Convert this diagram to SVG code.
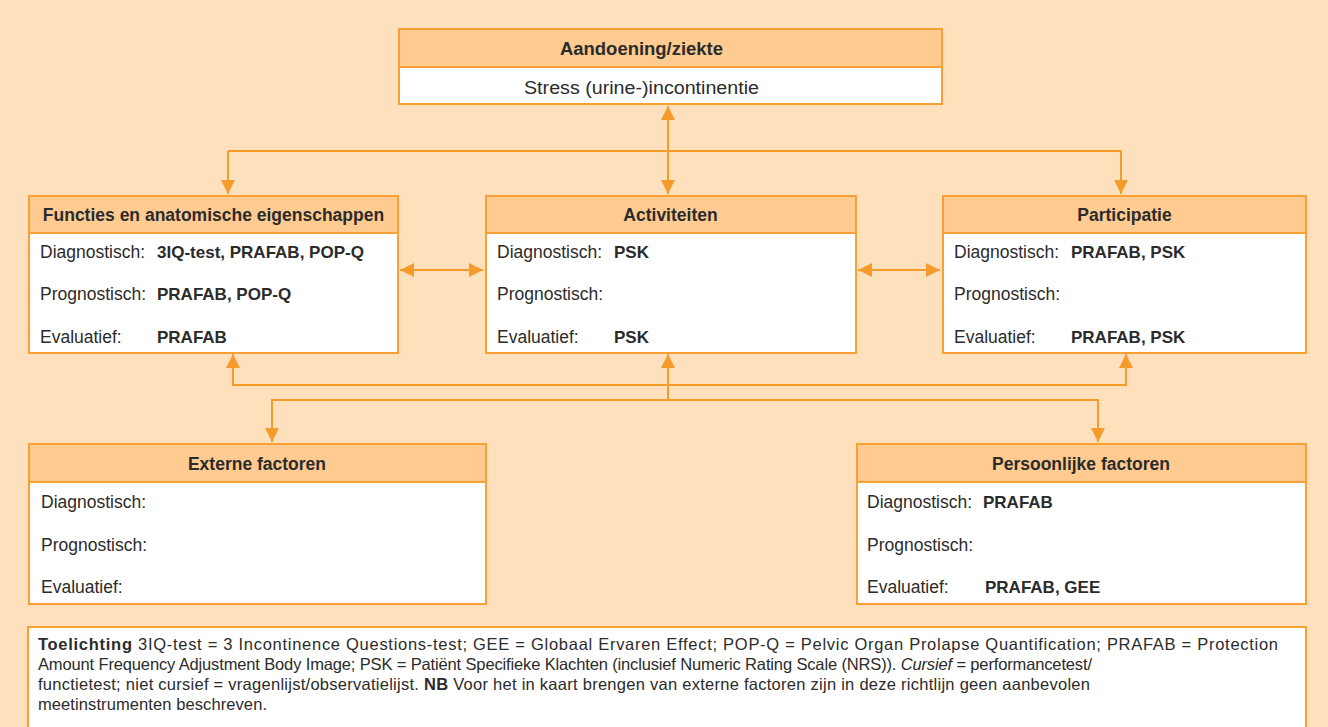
<svg xmlns="http://www.w3.org/2000/svg" width="1328" height="727" viewBox="0 0 1328 727">
<defs>
<style>
.box{fill:#fff;stroke:#F7A034;stroke-width:2}
.hdr{fill:#FFCB91;stroke:#F7A034;stroke-width:2}
.t{font-family:"Liberation Sans",Arial,sans-serif;font-size:17.5px;fill:#2b2b2b}
.v{font-family:"Liberation Sans",Arial,sans-serif;font-size:17px;font-weight:bold;fill:#2b2b2b}
.h{font-family:"Liberation Sans",Arial,sans-serif;font-size:17.5px;font-weight:bold;fill:#2b2b2b;text-anchor:middle}
.b{font-weight:bold}
.c{fill:none;stroke:#F59B2C;stroke-width:2}
.fn{font-family:"Liberation Sans",Arial,sans-serif;font-size:16.5px;fill:#2b2b2b}
</style>
<marker id="ah" markerUnits="userSpaceOnUse" markerWidth="14" markerHeight="16" viewBox="0 0 14 16" refX="14" refY="8" orient="auto-start-reverse">
<path d="M0,1 L14,8 L0,15 Z" fill="#F59B2C"/>
</marker>
</defs>
<rect x="0" y="0" width="1328" height="727" fill="#FFE0BD"/>

<g id="connectors">
<path class="c" d="M668,106 V194" marker-start="url(#ah)" marker-end="url(#ah)"/>
<path class="c" d="M228,151 H1121"/>
<path class="c" d="M228,151 V194" marker-end="url(#ah)"/>
<path class="c" d="M1121,151 V194" marker-end="url(#ah)"/>
<path class="c" d="M400,270 H483" marker-start="url(#ah)" marker-end="url(#ah)"/>
<path class="c" d="M858,270 H940" marker-start="url(#ah)" marker-end="url(#ah)"/>
<path class="c" d="M233,354 V385 H1126 V354" marker-start="url(#ah)" marker-end="url(#ah)"/>
<path class="c" d="M668,400 V354" marker-end="url(#ah)"/>
<path class="c" d="M272,442 V400 H1098 V442" marker-start="url(#ah)" marker-end="url(#ah)"/>
</g>

<g id="aandoening">
<rect class="hdr" x="399" y="29" width="543" height="38"/>
<rect class="box" x="399" y="67" width="543" height="37"/>
<text class="h" x="560" y="55" font-size="19.5" textLength="163" lengthAdjust="spacingAndGlyphs" style="text-anchor:start">Aandoening/ziekte</text>
<text class="t" x="524" y="94" font-size="19" textLength="235" lengthAdjust="spacingAndGlyphs">Stress (urine-)incontinentie</text>
</g>

<g id="functies">
<rect class="hdr" x="29" y="196" width="369" height="37"/>
<rect class="box" x="29" y="233" width="369" height="120"/>
<text class="h" x="213.5" y="221">Functies en anatomische eigenschappen</text>
<text class="t" x="40" y="258">Diagnostisch:</text>
<text class="v" x="157" y="258">3IQ-test, PRAFAB, POP-Q</text>
<text class="t" x="40" y="300">Prognostisch:</text>
<text class="v" x="157" y="300">PRAFAB, POP-Q</text>
<text class="t" x="40" y="343">Evaluatief:</text>
<text class="v" x="157" y="343">PRAFAB</text>
</g>

<g id="activiteiten">
<rect class="hdr" x="486" y="196" width="370" height="37"/>
<rect class="box" x="486" y="233" width="370" height="120"/>
<text class="h" x="670.5" y="221">Activiteiten</text>
<text class="t" x="497" y="258">Diagnostisch:</text>
<text class="v" x="614" y="258">PSK</text>
<text class="t" x="497" y="300">Prognostisch:</text>
<text class="t" x="497" y="343">Evaluatief:</text>
<text class="v" x="614" y="343">PSK</text>
</g>

<g id="participatie">
<rect class="hdr" x="943" y="196" width="363" height="37"/>
<rect class="box" x="943" y="233" width="363" height="120"/>
<text class="h" x="1124.5" y="221">Participatie</text>
<text class="t" x="954" y="258">Diagnostisch:</text>
<text class="v" x="1071" y="258">PRAFAB, PSK</text>
<text class="t" x="954" y="300">Prognostisch:</text>
<text class="t" x="954" y="343">Evaluatief:</text>
<text class="v" x="1071" y="343">PRAFAB, PSK</text>
</g>

<g id="externe">
<rect class="hdr" x="29" y="444" width="457" height="38"/>
<rect class="box" x="29" y="482" width="457" height="122"/>
<text class="h" x="257" y="470">Externe factoren</text>
<text class="t" x="41" y="508">Diagnostisch:</text>
<text class="t" x="41" y="551">Prognostisch:</text>
<text class="t" x="41" y="593">Evaluatief:</text>
</g>

<g id="persoonlijke">
<rect class="hdr" x="857" y="444" width="449" height="38"/>
<rect class="box" x="857" y="482" width="449" height="122"/>
<text class="h" x="1081" y="470">Persoonlijke factoren</text>
<text class="t" x="867" y="508">Diagnostisch:</text>
<text class="v" x="983" y="508">PRAFAB</text>
<text class="t" x="867" y="551">Prognostisch:</text>
<text class="t" x="867" y="593">Evaluatief:</text>
<text class="v" x="985" y="593">PRAFAB, GEE</text>
</g>

<g id="toelichting">
<rect class="box" x="28" y="627" width="1278" height="110"/>
<text class="fn" x="38" y="650" font-size="17" textLength="1240" lengthAdjust="spacing"><tspan class="b">Toelichting</tspan> 3IQ-test = 3 Incontinence Questions-test; GEE = Globaal Ervaren Effect; POP-Q = Pelvic Organ Prolapse Quantification; PRAFAB = Protection</text>
<text class="fn" x="38" y="670" font-size="17" textLength="1054" lengthAdjust="spacing">Amount Frequency Adjustment Body Image; PSK = Patiënt Specifieke Klachten (inclusief Numeric Rating Scale (NRS)). <tspan font-style="italic">Cursief</tspan> = performancetest/</text>
<text class="fn" x="38" y="690" font-size="17" textLength="1052" lengthAdjust="spacing">functietest; niet cursief = vragenlijst/observatielijst. <tspan class="b">NB</tspan> Voor het in kaart brengen van externe factoren zijn in deze richtlijn geen aanbevolen</text>
<text class="fn" x="38" y="710" font-size="17" textLength="229" lengthAdjust="spacing">meetinstrumenten beschreven.</text>
</g>
</svg>
